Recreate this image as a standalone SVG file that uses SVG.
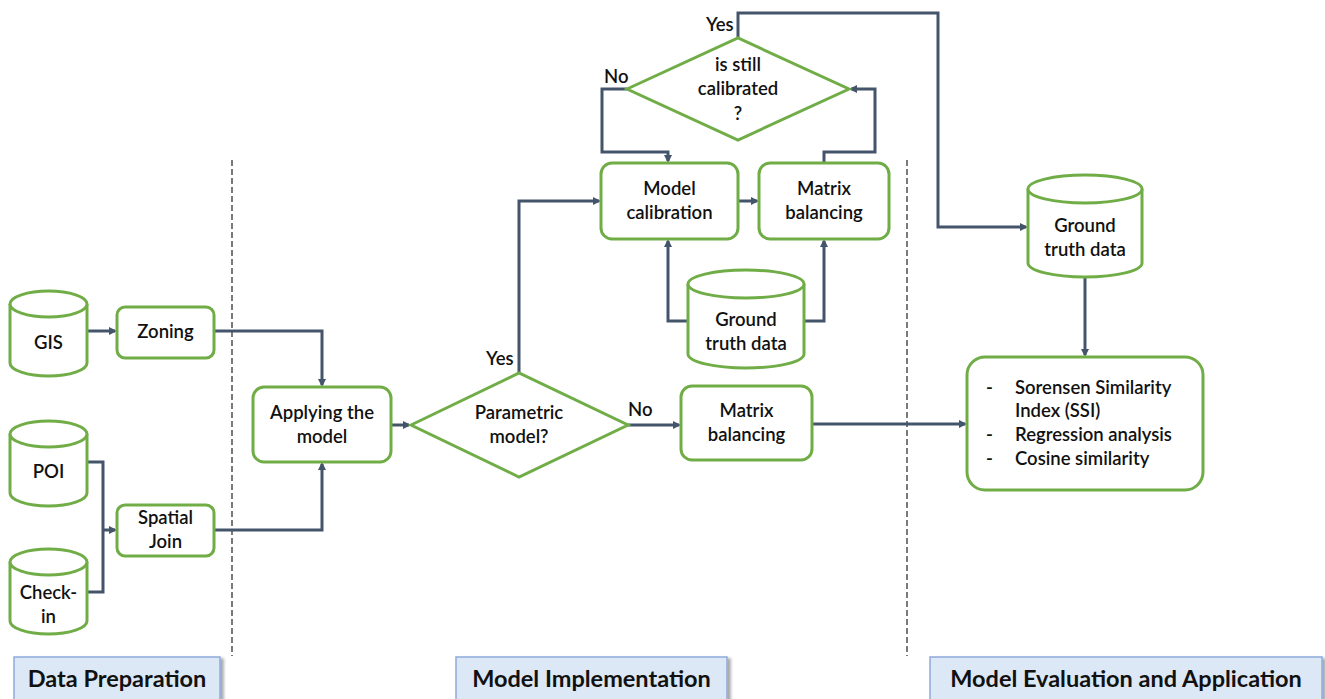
<svg xmlns="http://www.w3.org/2000/svg" width="1325" height="699" viewBox="0 0 1325 699">
<defs>
<marker id="ah" markerWidth="8" markerHeight="8" refX="6" refY="4" orient="auto" markerUnits="userSpaceOnUse">
<path d="M0,0 L8,4 L0,8 z" fill="#44546a"/>
</marker>
<filter id="sh" x="-5%" y="-20%" width="115%" height="150%">
<feDropShadow dx="3" dy="2" stdDeviation="1.5" flood-color="#000" flood-opacity="0.35"/>
</filter>
<style>
.n{fill:#fff;stroke:#70ad47;stroke-width:3}
.t{font-family:Lato,"Open Sans",sans-serif;font-size:18.5px;font-weight:600;fill:#111;text-anchor:middle}
.c{fill:none;stroke:#44546a;stroke-width:3}
.a{marker-end:url(#ah)}
.d{stroke:#333;stroke-width:1.3;stroke-dasharray:6,3;fill:none}
.f{fill:#dde8f6;stroke:#8eaadb;stroke-width:1.5;filter:url(#sh)}
.ft{font-family:Lato,"Open Sans",sans-serif;font-size:23.5px;font-weight:700;fill:#111;text-anchor:middle}
.l{font-family:Lato,"Open Sans",sans-serif;font-size:18.5px;font-weight:600;fill:#111}
</style>
</defs>
<rect width="1325" height="699" fill="#fff"/>

<path class="d" d="M232,160 V656"/>
<path class="d" d="M907,160 V656"/>

<g id="connectors">
<path class="c a" d="M87,331 H115"/>
<path class="c" d="M87,462 H103 V592 H87"/>
<path class="c a" d="M103,530 H115"/>
<path class="c a" d="M214,331 H322 V385"/>
<path class="c a" d="M214,530 H322 V464"/>
<path class="c a" d="M391,425 H409"/>
<path class="c a" d="M519,373 V201 H599"/>
<path class="c a" d="M628,425 H679"/>
<path class="c a" d="M812,424 H965"/>
<path class="c a" d="M738,201 H757"/>
<path class="c a" d="M688,321 H668 V241"/>
<path class="c a" d="M804,321 H824 V241"/>
<path class="c a" d="M627,89 H602 V152 H668 V161"/>
<path class="c a" d="M824,163 V152 H875 V89 H851"/>
<path class="c a" d="M738,38 V13 H938 V227 H1026"/>
<path class="c a" d="M1085,277 V355"/>
</g>

<g id="gis">
<path class="n" d="M10,304 A38.5,13 0 0 1 87,304 V363 A38.5,13 0 0 1 10,363 Z"/>
<path class="n" d="M10,304 A38.5,13 0 0 0 87,304"/>
<text class="t" x="48.5" y="349">GIS</text>
</g>
<g id="poi">
<path class="n" d="M10,434 A38.5,13 0 0 1 87,434 V493 A38.5,13 0 0 1 10,493 Z"/>
<path class="n" d="M10,434 A38.5,13 0 0 0 87,434"/>
<text class="t" x="48.5" y="478">POI</text>
</g>
<g id="checkin">
<path class="n" d="M10,562 A38.5,13 0 0 1 87,562 V621 A38.5,13 0 0 1 10,621 Z"/>
<path class="n" d="M10,562 A38.5,13 0 0 0 87,562"/>
<text class="t" x="48.5" y="599">Check-</text>
<text class="t" x="48.5" y="623">in</text>
</g>
<g id="zoning">
<rect class="n" x="117" y="307" width="97" height="51" rx="8"/>
<text class="t" x="165.5" y="338">Zoning</text>
</g>
<g id="spatialjoin">
<rect class="n" x="117" y="505" width="97" height="51" rx="8"/>
<text class="t" x="165.5" y="524">Spatial</text>
<text class="t" x="165.5" y="548">Join</text>
</g>
<g id="applying">
<rect class="n" x="253" y="387" width="138" height="75" rx="11"/>
<text class="t" x="322" y="419">Applying the</text>
<text class="t" x="322" y="443">model</text>
</g>
<g id="parametric">
<path class="n" d="M411,425 L519,373 L628,425 L519,477 Z"/>
<text class="t" x="519" y="419">Parametric</text>
<text class="t" x="519" y="443">model?</text>
</g>
<text class="l" x="486" y="365">Yes</text>
<text class="l" x="628" y="416">No</text>
<g id="matrix2">
<rect class="n" x="681" y="386" width="131" height="74" rx="11"/>
<text class="t" x="746.5" y="417">Matrix</text>
<text class="t" x="746.5" y="441">balancing</text>
</g>
<g id="calib">
<rect class="n" x="601" y="163" width="137" height="76" rx="11"/>
<text class="t" x="669.5" y="195">Model</text>
<text class="t" x="669.5" y="219">calibration</text>
</g>
<g id="matrix1">
<rect class="n" x="759" y="163" width="130" height="76" rx="11"/>
<text class="t" x="824" y="195">Matrix</text>
<text class="t" x="824" y="219">balancing</text>
</g>
<g id="gt1">
<path class="n" d="M688,284 A58,14 0 0 1 804,284 V354 A58,14 0 0 1 688,354 Z"/>
<path class="n" d="M688,284 A58,14 0 0 0 804,284"/>
<text class="t" x="746" y="326">Ground</text>
<text class="t" x="746" y="350">truth data</text>
</g>
<g id="still">
<path class="n" d="M627,89 L738,38 L849,89 L738,140 Z"/>
<text class="t" x="738" y="71">is still</text>
<text class="t" x="738" y="95">calibrated</text>
<text class="t" x="738" y="120">?</text>
</g>
<text class="l" x="604" y="83">No</text>
<text class="l" x="706" y="31">Yes</text>
<g id="gt2">
<path class="n" d="M1028,189 A57,14 0 0 1 1142,189 V263 A57,14 0 0 1 1028,263 Z"/>
<path class="n" d="M1028,189 A57,14 0 0 0 1142,189"/>
<text class="t" x="1085" y="232">Ground</text>
<text class="t" x="1085" y="256">truth data</text>
</g>
<g id="eval">
<rect class="n" x="967" y="357" width="236" height="133" rx="18"/>
<text class="l" x="986" y="394">-</text>
<text class="l" x="1015" y="394">Sorensen Similarity</text>
<text class="l" x="1015" y="417">Index (SSI)</text>
<text class="l" x="986" y="441">-</text>
<text class="l" x="1015" y="441">Regression analysis</text>
<text class="l" x="986" y="465">-</text>
<text class="l" x="1015" y="465">Cosine similarity</text>
</g>

<g id="footer1">
<rect class="f" x="14" y="657" width="206" height="50"/>
<text class="ft" x="117" y="687">Data Preparation</text>
</g>
<g id="footer2">
<rect class="f" x="456" y="657" width="271" height="50"/>
<text class="ft" x="591.5" y="687">Model Implementation</text>
</g>
<g id="footer3">
<rect class="f" x="930" y="657" width="392" height="50"/>
<text class="ft" x="1126" y="687">Model Evaluation and Application</text>
</g>
</svg>
